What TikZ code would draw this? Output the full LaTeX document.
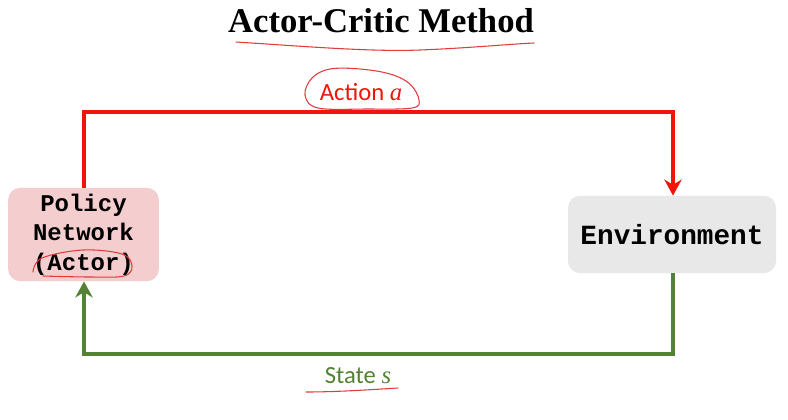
\documentclass[tikz,border=0pt]{standalone}
\usepackage{fontspec}
\setmainfont{Liberation Serif}
\newfontfamily\labelfont{Carlito}
\newfontfamily\codefont{Liberation Mono}
\usetikzlibrary{arrows.meta}
\definecolor{redline}{RGB}{240,20,10}
\definecolor{greenline}{RGB}{84,130,53}
\definecolor{pinkfill}{RGB}{244,205,207}
\definecolor{grayfill}{RGB}{232,232,232}
\definecolor{penred}{RGB}{225,60,60}
\tikzset{
  box/.style={rounded corners=9pt, inner sep=0pt, font=\codefont\bfseries, align=center},
  flow/.style={line width=3pt, -{Stealth[length=12pt,width=13pt]}},
  pen/.style={penred, line width=0.8pt, line cap=round, line join=round},
  lbl/.style={font=\labelfont\fontsize{18.5}{22}\selectfont, inner sep=0pt}
}
\begin{document}
\begin{tikzpicture}[x=0.75pt,y=-0.75pt]
\useasboundingbox (0,0) rectangle (788,419);
\fill[white] (0,0) rectangle (788,419);
% title
\node[font=\fontsize{26}{30}\selectfont\bfseries, inner sep=0pt, anchor=base] (title) at (381,32) {Actor-Critic Method};
\draw[pen] (236,42) .. controls (300,46) and (370,52) .. (420,50) .. controls (470,48) and (510,44) .. (534,43);
% boxes
\node[box, fill=pinkfill, minimum width=113pt, minimum height=70pt, font=\codefont\bfseries\fontsize{18}{22}\selectfont] (policy) at (83.5,234.5) {Policy\\Network\\(Actor)};
\node[box, fill=grayfill, minimum width=156pt, minimum height=58pt, font=\codefont\bfseries\fontsize{20.8}{24}\selectfont] (env) at (672,234.5) {Environment};
% connectors
\coordinate (tl) at (84,112);
\coordinate (tr) at (673,112);
\coordinate (bl) at (84,354);
\coordinate (br) at (673,354);
\draw[flow, redline] (policy.north -| tl) -- (tl) -- (tr) -- (env.north -| tr);
\draw[flow, greenline] (env.south -| br) -- (br) -- (bl) -- (policy.south -| bl);
% labels
\node[lbl, text=redline, anchor=base] (action) at (361,100) {Action \(\mathit{a}\)};
\node[lbl, text=greenline, anchor=base] (state) at (358,383) {State \(\mathit{s}\)};
% pen annotations
\draw[pen] plot[smooth cycle, tension=0.6] coordinates {(305,95) (312,78) (330,69) (360,69) (390,74) (410,84) (419,100) (412,108) (367,109) (318,108)};
\draw[pen] (306,392) .. controls (340,392) and (380,389) .. (398,388);
\draw[pen] plot[smooth, tension=0.6] coordinates {(33,272) (42,258) (83,250) (122,254) (132,266) (124,276) (90,277) (43,276)};
\end{tikzpicture}
\end{document}
